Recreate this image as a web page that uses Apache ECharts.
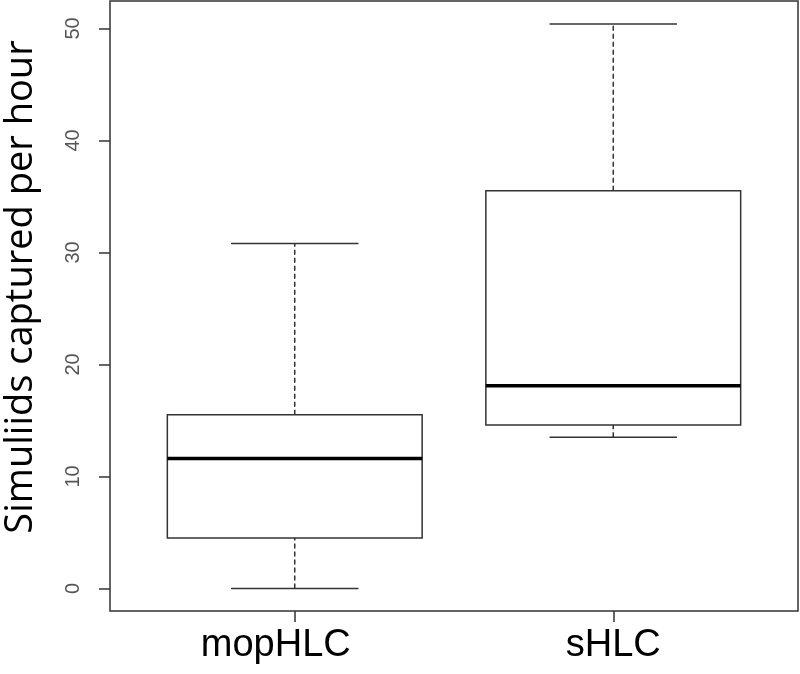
<!DOCTYPE html>
<html>
<head>
<meta charset="utf-8">
<script src="https://cdn.jsdelivr.net/npm/echarts@6/dist/echarts.min.js"></script>
<style>
  html, body { margin: 0; padding: 0; background: #fff; }
  #chart { width: 800px; height: 674px; }
</style>
</head>
<body>
<div id="chart"></div>
<script>
const categories = ['mopHLC', 'sHLC']
const lowerWhisker = [0, 13.5]
const lowerQuartile = [4.5, 14.6]
const median = [11.6, 18.1]
const upperQuartile = [15.5, 35.5]
const upperWhisker = [30.8, 50.4]
const yTicks = [0, 10, 20, 30, 40, 50]

const lineColor = '#333'

// one row per box: [position, min, q1, median, q3, max]
const boxData = categories.map((name, i) => [
  i + 1, lowerWhisker[i], lowerQuartile[i], median[i], upperQuartile[i], upperWhisker[i]
])

function renderBox(params, api) {
  const x = api.value(0)
  const pMin = api.coord([x, api.value(1)])
  const pQ1 = api.coord([x, api.value(2)])
  const pMed = api.coord([x, api.value(3)])
  const pQ3 = api.coord([x, api.value(4)])
  const pMax = api.coord([x, api.value(5)])
  const boxW = api.size([0.8, 0])[0]
  const capW = boxW / 2
  const cx = pMed[0]
  const solid = { stroke: lineColor, lineWidth: 1.5, fill: null }
  const dashed = { stroke: lineColor, lineWidth: 1.5, lineDash: [5, 3] }
  return {
    type: 'group',
    children: [
      { type: 'line', shape: { x1: cx, y1: pQ3[1], x2: cx, y2: pMax[1] }, style: dashed },
      { type: 'line', shape: { x1: cx, y1: pMin[1], x2: cx, y2: pQ1[1] }, style: dashed },
      { type: 'line', shape: { x1: cx - capW / 2, y1: pMax[1], x2: cx + capW / 2, y2: pMax[1] }, style: solid },
      { type: 'line', shape: { x1: cx - capW / 2, y1: pMin[1], x2: cx + capW / 2, y2: pMin[1] }, style: solid },
      {
        type: 'rect',
        shape: { x: cx - boxW / 2, y: pQ3[1], width: boxW, height: pQ1[1] - pQ3[1] },
        style: { stroke: lineColor, lineWidth: 1.5, fill: '#fff' }
      },
      { type: 'line', shape: { x1: cx - boxW / 2, y1: pMed[1], x2: cx + boxW / 2, y2: pMed[1] }, style: { stroke: '#000', lineWidth: 3.5 } }
    ]
  }
}

const myChart = echarts.init(document.getElementById('chart'))
const option = {
  animation: false,
  backgroundColor: '#fff',
  grid: {
    left: 110,
    right: 2,
    top: 1,
    bottom: 63,
    show: true,
    borderColor: lineColor,
    borderWidth: 1.5,
    backgroundColor: 'transparent'
  },
  // y title sits a bit above the plot centre in the original
  graphic: [
    {
      type: 'text',
      x: 21,
      y: 287,
      rotation: Math.PI / 2,
      style: {
        text: 'Simuliids captured per hour',
        fontSize: 38,
        fontFamily: 'Open Sans',
        fill: '#000',
        textAlign: 'center',
        textVerticalAlign: 'middle'
      }
    }
  ],
  xAxis: {
    type: 'value',
    min: 0.42,
    max: 2.58,
    splitLine: { show: false },
    axisLine: { show: false, onZero: false },
    axisTick: {
      show: true,
      customValues: [1, 2],
      length: 11,
      lineStyle: { color: lineColor, width: 1.5 }
    },
    axisLabel: {
      customValues: [1, 2],
      // first label is drawn a little left of its tick in the original
      formatter: (v) => {
        const i = Math.round(v) - 1
        return i === 0 ? '{left|' + categories[i] + '}' : categories[i]
      },
      rich: {
        left: { fontSize: 38, fontFamily: 'Liberation Sans', color: '#000', padding: [0, 38, 0, 0] }
      },
      margin: 16,
      fontSize: 38,
      fontFamily: 'Liberation Sans',
      color: '#000'
    }
  },
  yAxis: {
    type: 'value',
    min: -2.02,
    max: 52.45,
    splitLine: { show: false },
    axisLine: { show: false, onZero: false },
    axisTick: {
      show: true,
      customValues: yTicks,
      length: 11,
      lineStyle: { color: lineColor, width: 1.5 }
    },
    axisLabel: {
      customValues: yTicks,
      rotate: 90,
      margin: 27,
      fontSize: 20,
      fontFamily: 'Liberation Sans',
      color: '#555'
    }
  },
  series: [
    {
      type: 'custom',
      renderItem: renderBox,
      encode: { x: 0, y: [1, 2, 3, 4, 5] },
      data: boxData
    }
  ]
}
myChart.setOption(option, true)
</script>
</body>
</html>
